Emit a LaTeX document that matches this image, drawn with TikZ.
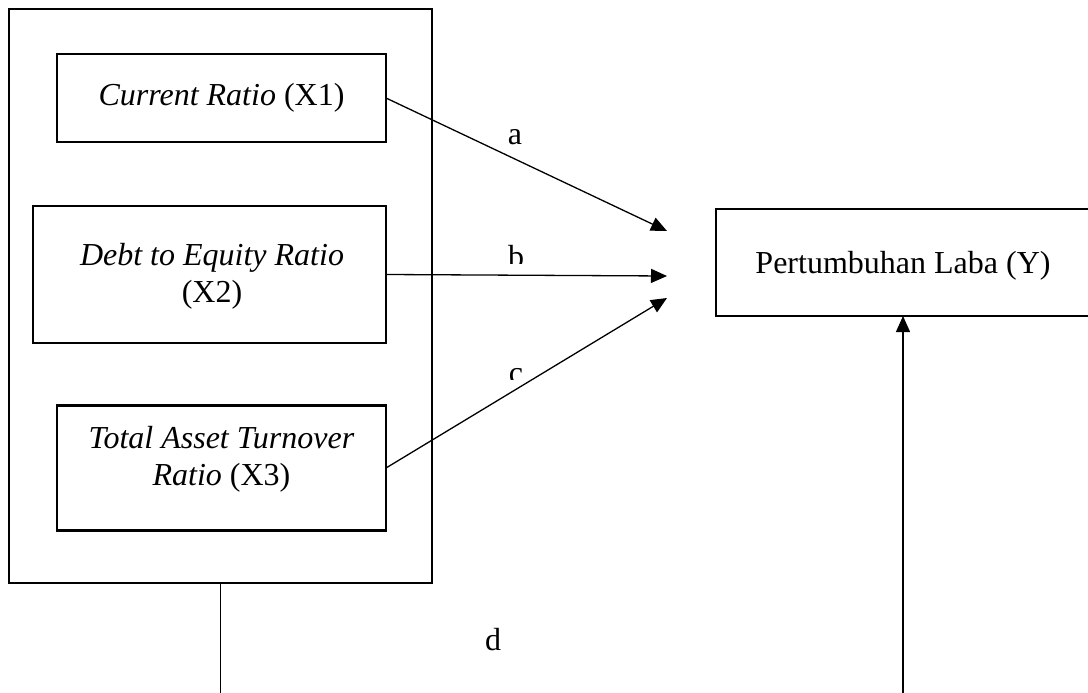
\documentclass[tikz,border=0pt]{standalone}
\usepackage{fontspec}
\setmainfont{Liberation Serif}
\usetikzlibrary{arrows.meta}
\begin{document}
\begin{tikzpicture}[x=1pt,y=-1pt,
  frame/.style={draw=black,line width=2.7pt,inner sep=0pt,outer sep=0pt},
  txt/.style={inner sep=0pt,align=center,font=\fontsize{32}{37}\selectfont},
  lbl/.style={inner sep=0pt,font=\fontsize{32}{37}\selectfont},
  link/.style={draw=black,line width=1.3pt,-{Triangle[length=16pt,width=14pt]}},
  plain/.style={draw=black,line width=1.3pt}]
\useasboundingbox[fill=white] (0,0) rectangle (1088,693);

% independent variables group
\node[frame,minimum width=423pt,minimum height=574pt] (grp) at (220.5,296) {};
\node[frame,minimum width=329pt,minimum height=88pt] (x1) at (221.5,98) {};
\node[frame,minimum width=353pt,minimum height=137pt] (x2) at (209.5,274.5) {};
\node[frame,minimum width=329pt,minimum height=125pt] (x3) at (221.5,468) {};

\node[txt] (x1t) at (221.5,98) {\textit{Current Ratio} (X1)};
\node[txt] (x2t) at (212,276) {\textit{Debt to Equity Ratio}\\(X2)};
\node[txt] (x3t) at (221.5,459) {\textit{Total Asset Turnover}\\\textit{Ratio} (X3)};

% dependent variable
\node[frame,minimum width=374pt,minimum height=107pt] (y) at (903,262.5) {};
\node[txt] (yt) at (903,266) {Pertumbuhan Laba (Y)};

% arrow tips
\coordinate (ta) at (667,231);
\coordinate (tb) at (667,276);
\coordinate (tc) at (667,298);
\coordinate (bl) at (220.5,700);
\coordinate (br) at (903,700);

\draw[link] (x1.east) -- (ta);
\draw[link] (x2.east) -- (tb);
\draw[link] (x3.east) -- (tc);
\draw[plain] (grp.south) -- (bl);
\draw[link] (br) -- (y.south);

% path labels
\node[lbl] (la) at (515,137) {a};
\begin{scope}
  \clip (480,230) rectangle (560,263);
  \node[lbl] (lb) at (516,257) {b};
\end{scope}
\begin{scope}
  \clip (480,350) rectangle (560,379);
  \node[lbl] (lc) at (516,376) {c};
\end{scope}
\node[lbl] (ld) at (493,640) {d};
\end{tikzpicture}
\end{document}
